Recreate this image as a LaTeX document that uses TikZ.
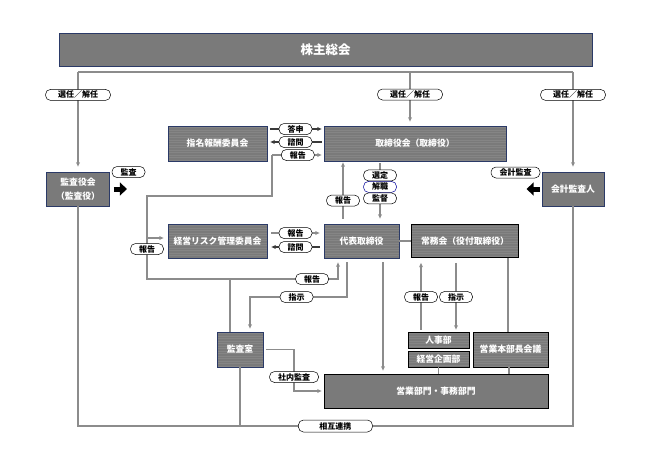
\documentclass[tikz,border=0pt]{standalone}
\usepackage{fontspec}
\setmainfont{Noto Sans CJK JP}
\usetikzlibrary{arrows.meta,positioning,calc}
\definecolor{boxgray}{HTML}{7A7A7A}
\definecolor{stripe}{HTML}{858585}
\definecolor{navy}{HTML}{2B3A67}
\definecolor{linegray}{HTML}{8C8C8C}
\definecolor{tipdark}{HTML}{3A3A3A}

\begin{document}
\begin{tikzpicture}[x=1pt,y=-1pt,>={Stealth[length=4.5pt,width=4pt]},
 org/.style={draw=navy,line width=0.8pt,fill=boxgray,text=white,align=center,inner sep=0pt,font=\fontsize{8.8}{14}\selectfont\bfseries},
 sub/.style={org,draw=black},
 striped/.style={path picture={\foreach \k in {1.5,4,...,40} \draw[stripe,line width=0.5pt] ([yshift=-\k pt]path picture bounding box.north west) -- ([yshift=-\k pt]path picture bounding box.north east);}},
 tag/.style={draw=black,line width=0.5pt,fill=white,rounded corners=5pt,inner xsep=8.5pt,inner ysep=0pt,minimum height=11pt,font=\fontsize{8}{8}\selectfont\bfseries},
 ln/.style={draw=linegray,line width=1.2pt},
 dk/.style={draw=tipdark,line width=1.2pt},
 fat/.style={line width=5pt,-{Triangle[length=7pt,width=13pt]}}]
\useasboundingbox (0,0) rectangle (645,450);
% boxes
\node[org,minimum width=533pt,minimum height=33.5pt,font=\fontsize{12.5}{14}\selectfont\bfseries] (soukai) at (325.5,49.8) {株主総会};
\node[org,minimum width=63pt,minimum height=34pt] (kansayaku) at (78,189) {監査役会\\（監査役）};
\node[org,striped,minimum width=99pt,minimum height=35pt] (shimei) at (217.5,143.5) {指名報酬委員会};
\node[org,striped,minimum width=182pt,minimum height=35pt] (torishimari) at (415,143.5) {取締役会（取締役）};
\node[org,minimum width=62pt,minimum height=34pt] (kaikei) at (573,189) {会計監査人};
\node[org,striped,minimum width=99pt,minimum height=34pt] (risk) at (217.5,241) {経営リスク管理委員会};
\node[org,striped,minimum width=75pt,minimum height=34pt] (daihyo) at (361.5,241) {代表取締役};
\node[sub,striped,minimum width=107pt,minimum height=33pt] (jomu) at (465,241) {常務会（役付取締役）};
\node[org,striped,minimum width=46pt,minimum height=35pt] (kansashitsu) at (240,349.5) {監査室};
\node[sub,striped,minimum width=61pt,minimum height=16pt] (jinji) at (438.5,340) {人事部};
\node[sub,striped,minimum width=61pt,minimum height=16pt] (kikaku) at (438.5,359) {経営企画部};
\node[sub,striped,minimum width=75pt,minimum height=35pt] (honbucho) at (510.5,349.5) {営業本部長会議};
\node[sub,minimum width=224pt,minimum height=34pt] (eigyo) at (436,391) {営業部門・事務部門};
% shareholders bus
\coordinate (busL) at (78,72);
\coordinate (busM) at (410,72);
\coordinate (busR) at (573,72);
\draw[ln] (busL) -- (busR);
\draw[ln,->,shorten >=5pt] (busL) -- node[tag,minimum width=65pt,pos=.23] (senL) {選任／解任} (kansayaku.north);
\draw[ln,->,shorten >=4pt] (busM) -- node[tag,minimum width=65pt,pos=.42] (senM) {選任／解任} (busM |- torishimari.north);
\draw[ln,->,shorten >=5pt] (busR) -- node[tag,minimum width=65pt,pos=.23] (senR) {選任／解任} (kaikei.north);
% audits
\node[tag] (kansaLbl) at (128.5,172) {監査};
\draw[fat] ([xshift=4pt]kansayaku.east) -- ([xshift=17pt]kansayaku.east);
\node[tag] (kaikeiLbl) at (515.5,172.5) {会計監査};
\draw[fat] ([xshift=-2pt]kaikei.west) -- ([xshift=-15pt]kaikei.west);
% committees
\draw[dk,->,shorten <=3pt,shorten >=2pt] ([yshift=14.5pt]shimei.east) -- node[tag] (toushin) {答申} ([yshift=14.5pt]torishimari.west);
\draw[dk,<-,shorten <=3pt,shorten >=2pt] ([yshift=1.5pt]shimei.east) -- node[tag] (shimonA) {諮問} ([yshift=1.5pt]torishimari.west);
\draw[ln,->,shorten <=4pt,shorten >=4pt] ([yshift=8pt]risk.east) -- node[tag] (rptE) {報告} ([yshift=8pt]daihyo.west);
\draw[dk,<-,shorten <=4pt,shorten >=4pt] ([yshift=-6pt]risk.east) -- node[tag] (shimonB) {諮問} ([yshift=-6pt]daihyo.west);
% reports from the audit office
\coordinate (hub) at (230,279);
\coordinate (lbus) at (147,196);
\coordinate (rbus) at (272,155);
\coordinate (riskin) at (147,238);
\draw[ln] (kansashitsu.north -| hub) -- (hub) -| (lbus) -| (rbus);
\draw[ln,->,shorten >=2pt] (rbus) -- node[tag] (rptA) {報告} (rbus -| torishimari.west);
\draw[ln,->,shorten >=4pt] (riskin) -- (riskin -| risk.west);
\node[tag] (rptB) at (147,249) {報告};
\draw[ln,->,shorten >=4pt] (hub) -| node[tag,pos=.38] (rptC) {報告} ([xshift=-23.5pt]daihyo.south);
\coordinate (instr) at (250,297);
\draw[ln,->,shorten <=4pt,shorten >=3pt] ([xshift=-14.5pt]daihyo.south) |- node[tag,pos=.76] (shijiA) {指示} (instr) -- (instr |- kansashitsu.north);
% board and representative director
\draw[ln,->,shorten <=5pt,shorten >=1pt] ([xshift=-18.5pt]daihyo.north) -- node[tag,pos=.37] (rptD) {報告} ([xshift=-18.5pt]daihyo.north |- torishimari.south);
\draw[ln,->,shorten <=2pt,shorten >=5pt] ([xshift=18.5pt]daihyo.north |- torishimari.south) -- node[tag,draw=blue!60!black,pos=.41] (kaishoku) {解職} ([xshift=18.5pt]daihyo.north);
\node[tag,above=0pt of kaishoku] (sentei) {選定};
\node[tag,below=0pt of kaishoku] (kantoku) {監督};
\draw[ln] (daihyo) -- (jomu);
\draw[ln,->,shorten <=4pt,shorten >=3pt] ([xshift=21.5pt]daihyo.south) -- ([xshift=21.5pt]daihyo.south |- eigyo.north);
% managing board and departments
\draw[ln,->,shorten <=2pt,shorten >=5pt] ([xshift=-17.5pt]jinji.north) -- node[tag,pos=.47] (rptF) {報告} ([xshift=-17.5pt]jinji.north |- jomu.south);
\draw[ln,->,shorten <=5pt,shorten >=2pt] ([xshift=17.5pt]jinji.north |- jomu.south) -- node[tag,pos=.53] (shijiB) {指示} ([xshift=17.5pt]jinji.north);
\draw[ln] ([xshift=43pt]jomu.south) -- ([xshift=43pt]jomu.south |- honbucho.north);
\draw[ln] (kikaku.south) -- (kikaku.south |- eigyo.north);
\draw[ln] ([xshift=-1.5pt]honbucho.south) -- ([xshift=-1.5pt]honbucho.south |- eigyo.north);
\coordinate (iaud) at (294,377);
\draw[ln,->,shorten <=3pt,shorten >=2pt] (kansashitsu.east) -| (iaud) |- (eigyo.west);
\node[tag] (naibu) at (iaud) {社内監査};
% cooperation line
\coordinate (floor) at (0,426);
\draw[ln] (kansayaku.south) -- (kansayaku.south |- floor) -- node[tag,minimum width=74pt,minimum height=12pt,pos=.52] (sougo) {相互連携} (kaikei.south |- floor) -- (kaikei.south);
\draw[ln] (kansashitsu.south) -- (kansashitsu.south |- floor);
\end{tikzpicture}
\end{document}
